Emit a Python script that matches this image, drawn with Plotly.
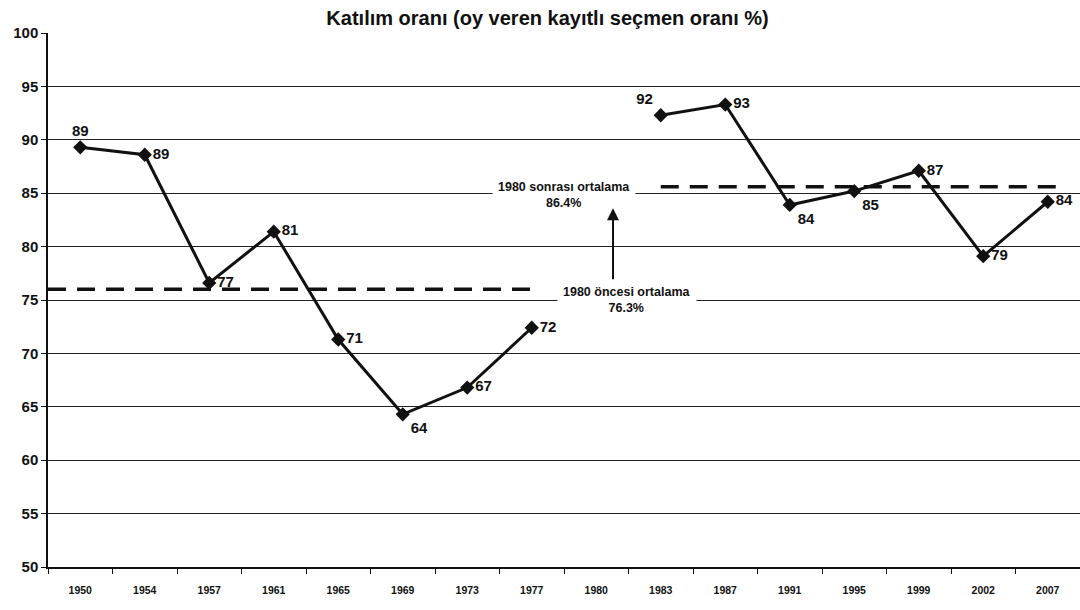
import plotly.graph_objects as go

years = ["1950", "1954", "1957", "1961", "1965", "1969", "1973", "1977", "1980",
         "1983", "1987", "1991", "1995", "1999", "2002", "2007"]
turnout = [89.3, 88.6, 76.6, 81.4, 71.3, 64.3, 66.8, 72.4, None,
           92.3, 93.3, 83.9, 85.2, 87.1, 79.1, 84.2]
labels = ["89", "89", "77", "81", "71", "64", "67", "72", "",
          "92", "93", "84", "85", "87", "79", "84"]
label_pos = ["top center", "middle right", "middle right", "middle right", "middle right",
             "bottom right", "middle right", "middle right", "middle right",
             "top left", "middle right", "bottom right", "bottom right", "middle right",
             "middle right", "middle right"]

pre_avg_value = 76.0
post_avg_value = 85.6
pre_avg_text = "<b>1980 öncesi ortalama<br>76.3%</b>"
post_avg_text = "<b>1980 sonrası ortalama<br>86.4%</b>"
title_text = "Katılım oranı (oy veren kayıtlı seçmen oranı %)"

FONT = "Liberation Sans, Arial, sans-serif"

fig = go.Figure()
fig.add_trace(go.Scatter(
    x=years, y=turnout, mode="lines+markers+text",
    text=["<b>" + t + "</b>" if t else "" for t in labels], textposition=label_pos,
    textfont=dict(family=FONT, size=15, color="#111"),
    line=dict(color="#111", width=3),
    marker=dict(symbol="diamond", size=11, color="#111"),
    connectgaps=False, showlegend=False, cliponaxis=False,
))

# Average dashed lines
fig.add_shape(type="line", xref="x", yref="y", x0=-0.5, x1=7, y0=pre_avg_value, y1=pre_avg_value,
              line=dict(color="#111", width=3.5, dash="18px,11px"))
fig.add_shape(type="line", xref="x", yref="y", x0=9, x1=15.2, y0=post_avg_value, y1=post_avg_value,
              line=dict(color="#111", width=3.5, dash="18px,11px"))

fig.add_annotation(x=7.5, y=84.8, xref="x", yref="y", text=post_avg_text, showarrow=False,
                   font=dict(family=FONT, size=12.5, color="#111"), bgcolor="white",
                   borderpad=5)
fig.add_annotation(x=8.48, y=75.0, xref="x", yref="y", text=pre_avg_text, showarrow=False,
                   font=dict(family=FONT, size=12.5, color="#111"), bgcolor="white",
                   borderpad=5)
fig.add_annotation(x=8.26, y=83.6, ax=8.26, ay=76.8, xref="x", yref="y", axref="x", ayref="y",
                   text="", showarrow=True, arrowhead=2, arrowsize=1.2, arrowwidth=2,
                   arrowcolor="#111")

fig.update_layout(
    width=1080, height=610,
    margin=dict(l=48, r=0, t=33, b=43, autoexpand=False),
    paper_bgcolor="white", plot_bgcolor="white",
    title=dict(text="<b>" + title_text + "</b>", x=0.507, xanchor="center",
               yref="container", y=1 - 18 / 610, yanchor="middle",
               font=dict(family=FONT, size=20, color="#111")),
    font=dict(family=FONT, color="#111"),
)
fig.update_xaxes(type="category", categoryorder="array", categoryarray=years, automargin=False,
                 range=[-0.5, 15.5], showgrid=False, showline=True, linecolor="#111", linewidth=1.5,
                 ticks="outside", tickson="boundaries", ticklen=5, tickcolor="#111",
                 ticklabelstandoff=13,
                 tickfont=dict(family=FONT, size=10.5, color="#111"), tickprefix="<b>", ticksuffix="</b>")
fig.update_yaxes(range=[50, 100], dtick=5, showgrid=True, gridcolor="#222", gridwidth=1, automargin=False,
                 showline=True, linecolor="#111", linewidth=1.5, ticks="outside", ticklen=5,
                 tickcolor="#111", tickfont=dict(family=FONT, size=15, color="#111"),
                 tickprefix="<b>", ticksuffix="</b>", zeroline=False)

fig.write_html("out.html", config={"displayModeBar": False},
               post_script="document.body.style.margin='0';document.body.style.overflow='hidden';")
